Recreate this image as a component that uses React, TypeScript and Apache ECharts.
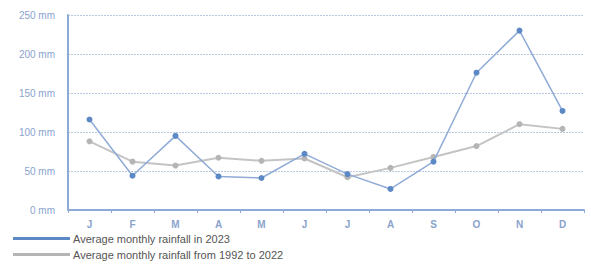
import React, { useEffect, useRef } from "react";
import * as echarts from "echarts";

const months = ["J", "F", "M", "A", "M", "J", "J", "A", "S", "O", "N", "D"];
const rain2023 = [116, 44, 95, 43, 41, 72, 46, 27, 62, 176, 230, 127];
const rainAvg = [88, 62, 57, 67, 63, 66, 42, 54, 68, 82, 110, 104];
const seriesNames = [
  "Average monthly rainfall in 2023",
  "Average monthly rainfall from 1992 to 2022",
];

export default function App() {
  const ref = useRef<HTMLDivElement>(null);
  useEffect(() => {
    const chart = echarts.init(ref.current!, null, { renderer: "svg" });
    chart.setOption({
      animation: false,
      backgroundColor: "#fff",
      textStyle: { fontFamily: "Liberation Sans Narrow, Liberation Sans, sans-serif" },
      grid: { left: 68, right: 7, top: 15, bottom: 55 },
      legend: {
        orient: "vertical",
        left: 13,
        top: 233,
        itemWidth: 57,
        itemHeight: 3,
        itemGap: 5,
        icon: "rect",
        padding: 0,
        textStyle: { color: "#555", fontSize: 11, padding: [0, 0, 0, -2] },
        data: seriesNames,
      },
      xAxis: {
        type: "category",
        data: months,
        boundaryGap: true,
        axisLine: { lineStyle: { color: "#8eaad6", width: 2 } },
        axisTick: { show: true, length: 3, lineStyle: { color: "#8eaad6", width: 1 } },
        axisLabel: { color: "#8aa3cc", fontSize: 10, fontWeight: "bold", margin: 9 },
      },
      yAxis: {
        type: "value",
        min: 0,
        max: 250,
        interval: 50,
        axisLine: { show: true, lineStyle: { color: "#8eaad6", width: 2 } },
        axisTick: { show: false },
        splitLine: { lineStyle: { color: "#b8c8e0", type: [2, 1], width: 1 } },
        axisLabel: {
          color: "#8aa3cc",
          fontSize: 10,
          margin: 13,
          formatter: (v: number) => v + " mm",
        },
      },
      series: [
        {
          name: seriesNames[0],
          type: "line",
          data: rain2023,
          symbol: "circle",
          symbolSize: 6,
          lineStyle: { color: "#8fabd6", width: 1.5 },
          itemStyle: { color: "#5d88c6" },
          color: "#7fa0d2",
          z: 3,
        },
        {
          name: seriesNames[1],
          type: "line",
          data: rainAvg,
          symbol: "circle",
          symbolSize: 6,
          lineStyle: { color: "#c4c4c4", width: 2 },
          itemStyle: { color: "#b5b5b5" },
          color: "#bdbdbd",
          z: 2,
        },
      ],
    });
    return () => chart.dispose();
  }, []);
  return (
    <div
      ref={ref}
      style={{ position: "fixed", left: 0, top: 0, width: 591, height: 265 }}
    />
  );
}
